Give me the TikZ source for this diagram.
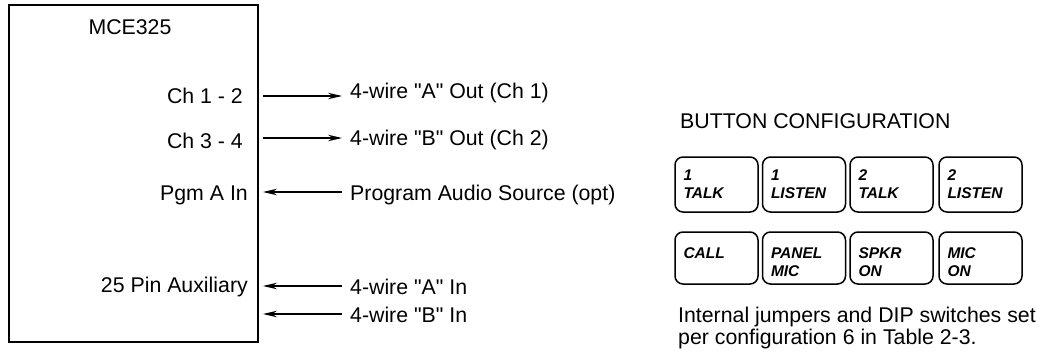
\documentclass[tikz,border=0pt]{standalone}
\usepackage{fontspec}
\setmainfont{Liberation Sans}[Ligatures=TeXOff]
\usetikzlibrary{arrows.meta,positioning}

\newcommand{\qt}{\symbol{34}}

\tikzset{
  lbl/.style={inner sep=0pt, font=\fontsize{21.3}{23}\selectfont},
  wire/.style={line width=1.2pt, -{Stealth[length=14pt,width=6.5pt]}},
  btn/.style={draw, line width=1.5pt, rounded corners=8pt, minimum width=83pt,
    text width=66pt, align=left, inner xsep=8.5pt,
    font=\fontsize{15.5}{18}\selectfont\bfseries\itshape},
  lowbtn/.style={btn, minimum height=52pt,
    execute at begin node={\rule{0pt}{19pt}}},
}

\begin{document}
\begin{tikzpicture}[x=1pt, y=-1pt]
\useasboundingbox (0,0) rectangle (1049,353);
%%%%%%%%%%%%%%%%%%%%%%%%%%%%%%%
% unit block
%%%%%%%%%%%%%%%%%%%%%%%%%%%%%%%
\draw [line width=1.4pt] (9,5) rectangle (258,342);
\node [lbl, anchor=base] (mce) at (130,35) {MCE325};
%
\node [lbl, anchor=base east] (ch12) at (243,103) {Ch 1 - 2};
\node [lbl, anchor=base east] (ch34) at (243,148) {Ch 3 - 4};
\node [lbl, anchor=base east] (pgm) at (248,200) {Pgm A In};
\node [lbl, anchor=base east] (aux) at (248,292) {25 Pin Auxiliary};
%
\node [lbl, anchor=base west] (outa) at (350,98) {4-wire \qt A\qt{} Out (Ch 1)};
\node [lbl, anchor=base west] (outb) at (350,145) {4-wire \qt B\qt{} Out (Ch 2)};
\node [lbl, anchor=base west] (src) at (350,200) {Program Audio Source (opt)};
\node [lbl, anchor=base west] (ina) at (350,294) {4-wire \qt A\qt{} In};
\node [lbl, anchor=base west] (inb) at (350,322) {4-wire \qt B\qt{} In};
%
\coordinate (p1) at (263,96);  \coordinate (q1) at (342,96);
\coordinate (p2) at (263,138); \coordinate (q2) at (342,138);
\coordinate (p3) at (263,192); \coordinate (q3) at (342,192);
\coordinate (p4) at (263,286); \coordinate (q4) at (342,286);
\coordinate (p5) at (263,314); \coordinate (q5) at (342,314);
\draw [wire] (p1) -- (q1);
\draw [wire] (p2) -- (q2);
\draw [wire] (q3) -- (p3);
\draw [wire] (q4) -- (p4);
\draw [wire] (q5) -- (p5);
%%%%%%%%%%%%%%%%%%%%%%%%%%%%%%%
% buttons
%%%%%%%%%%%%%%%%%%%%%%%%%%%%%%%
\node [lbl, anchor=base west] (title) at (680,128) {BUTTON CONFIGURATION};
%
\node [btn, minimum height=55pt] (b1) at (716.5,184.5) {1\\TALK};
\node [btn, minimum height=55pt] (b2) at (804,184.5) {1\\LISTEN};
\node [btn, minimum height=55pt] (b3) at (891.5,184.5) {2\\TALK};
\node [btn, minimum height=55pt] (b4) at (980.5,184.5) {2\\LISTEN};
\node [lowbtn] (b5) at (716.5,258) {CALL\\\mbox{}};
\node [lowbtn] (b6) at (804,258) {PANEL\\MIC};
\node [lowbtn] (b7) at (891.5,258) {SPKR\\ON};
\node [lowbtn] (b8) at (980.5,258) {MIC\\ON};
%
\node [lbl, anchor=base west, align=left, font=\fontsize{21.3}{22}\selectfont]
  (note) at (678,344)
  {Internal jumpers and DIP switches set\\per configuration 6 in Table 2-3.};
\end{tikzpicture}
\end{document}
